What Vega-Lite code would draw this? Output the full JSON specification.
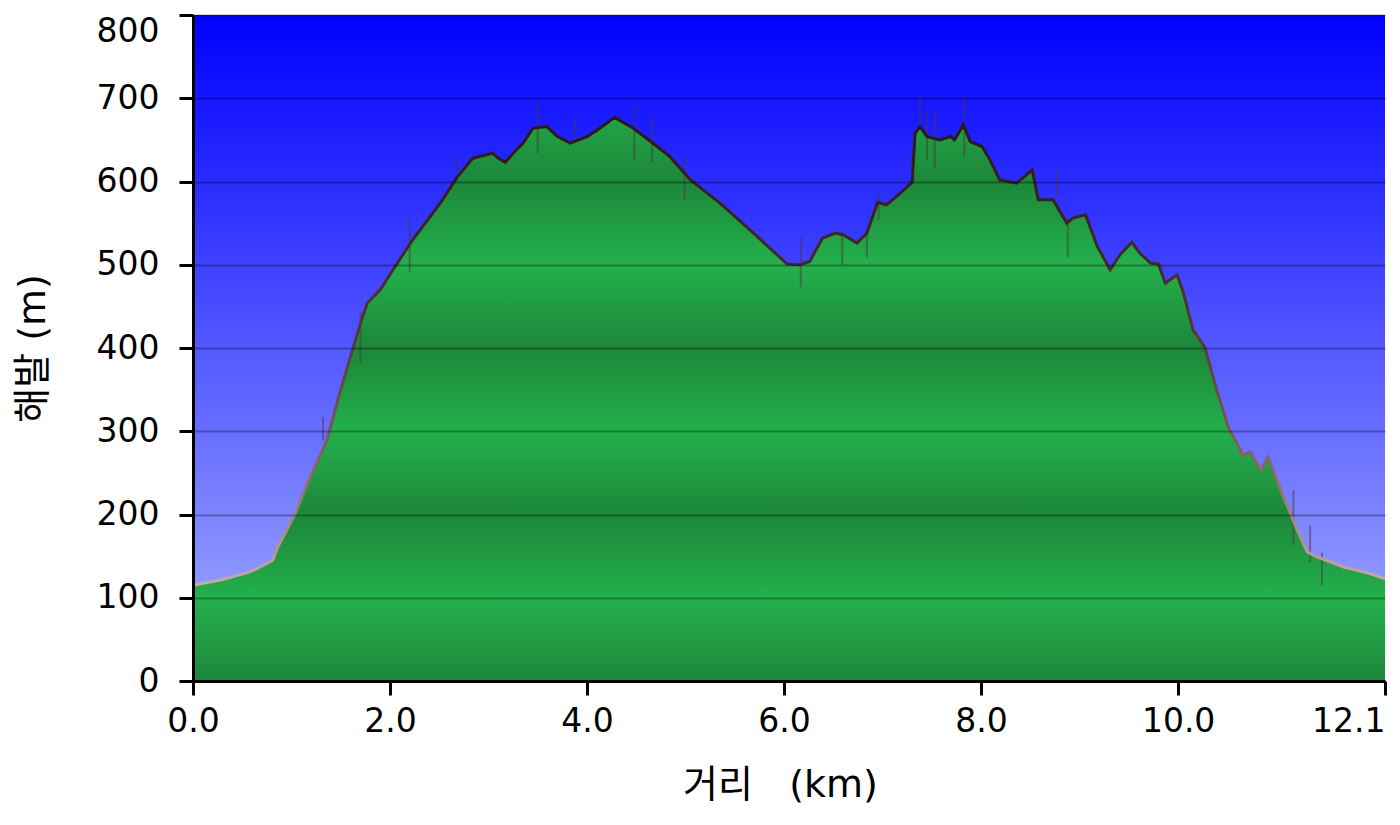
{
  "$schema": "https://vega.github.io/schema/vega-lite/v6.json",
  "width": 1192,
  "height": 666,
  "autosize": {"type": "none"},
  "padding": {"left": 193, "top": 15, "right": 15, "bottom": 144},
  "background": "#ffffff",
  "view": {
    "stroke": null,
    "fill": {"gradient": "linear", "x1": 0, "y1": 0, "x2": 0, "y2": 1,
      "stops": [{"offset": 0, "color": "#0000ff"}, {"offset": 1, "color": "#a6b0ff"}]}
  },
  "datasets": {
    "profile": [
      {"km": 0.00, "elev": 115}, {"km": 0.30, "elev": 122}, {"km": 0.58, "elev": 131}, {"km": 0.81, "elev": 145},
      {"km": 0.86, "elev": 161}, {"km": 1.02, "elev": 197}, {"km": 1.19, "elev": 245}, {"km": 1.36, "elev": 289},
      {"km": 1.49, "elev": 346}, {"km": 1.62, "elev": 398}, {"km": 1.72, "elev": 437}, {"km": 1.77, "elev": 454},
      {"km": 1.90, "elev": 470}, {"km": 2.03, "elev": 494}, {"km": 2.13, "elev": 512}, {"km": 2.23, "elev": 530},
      {"km": 2.51, "elev": 574}, {"km": 2.68, "elev": 605}, {"km": 2.84, "elev": 628}, {"km": 2.91, "elev": 630},
      {"km": 3.04, "elev": 634}, {"km": 3.10, "elev": 628}, {"km": 3.17, "elev": 623}, {"km": 3.25, "elev": 634},
      {"km": 3.35, "elev": 646}, {"km": 3.45, "elev": 664}, {"km": 3.59, "elev": 666}, {"km": 3.70, "elev": 654},
      {"km": 3.83, "elev": 646}, {"km": 4.00, "elev": 654}, {"km": 4.13, "elev": 664}, {"km": 4.28, "elev": 677},
      {"km": 4.47, "elev": 664}, {"km": 4.67, "elev": 646}, {"km": 4.84, "elev": 630}, {"km": 5.05, "elev": 602},
      {"km": 5.35, "elev": 574}, {"km": 5.69, "elev": 538}, {"km": 6.03, "elev": 501}, {"km": 6.16, "elev": 500},
      {"km": 6.26, "elev": 504}, {"km": 6.39, "elev": 532}, {"km": 6.52, "elev": 538}, {"km": 6.60, "elev": 536},
      {"km": 6.74, "elev": 526}, {"km": 6.84, "elev": 538}, {"km": 6.95, "elev": 575}, {"km": 7.04, "elev": 572},
      {"km": 7.18, "elev": 586}, {"km": 7.30, "elev": 599}, {"km": 7.33, "elev": 658}, {"km": 7.38, "elev": 666},
      {"km": 7.45, "elev": 654}, {"km": 7.58, "elev": 650}, {"km": 7.69, "elev": 654}, {"km": 7.73, "elev": 650},
      {"km": 7.82, "elev": 668}, {"km": 7.89, "elev": 648}, {"km": 8.01, "elev": 642}, {"km": 8.09, "elev": 626},
      {"km": 8.19, "elev": 602}, {"km": 8.36, "elev": 598}, {"km": 8.52, "elev": 614}, {"km": 8.58, "elev": 578},
      {"km": 8.73, "elev": 578}, {"km": 8.87, "elev": 550}, {"km": 8.93, "elev": 556}, {"km": 9.06, "elev": 560},
      {"km": 9.18, "elev": 522}, {"km": 9.31, "elev": 494}, {"km": 9.41, "elev": 512}, {"km": 9.53, "elev": 527},
      {"km": 9.61, "elev": 514}, {"km": 9.72, "elev": 502}, {"km": 9.80, "elev": 501}, {"km": 9.87, "elev": 478},
      {"km": 9.99, "elev": 488}, {"km": 10.05, "elev": 468}, {"km": 10.15, "elev": 422}, {"km": 10.27, "elev": 401},
      {"km": 10.39, "elev": 350}, {"km": 10.51, "elev": 305}, {"km": 10.66, "elev": 271}, {"km": 10.73, "elev": 275},
      {"km": 10.84, "elev": 253}, {"km": 10.91, "elev": 269}, {"km": 11.07, "elev": 221}, {"km": 11.21, "elev": 181},
      {"km": 11.31, "elev": 155}, {"km": 11.41, "elev": 149}, {"km": 11.68, "elev": 137}, {"km": 11.92, "elev": 130},
      {"km": 12.10, "elev": 123}
    ],
    "spikes": [
      {"km": 0.00, "lo": 118, "hi": 250}, {"km": 1.32, "lo": 289, "hi": 317}, {"km": 1.70, "lo": 382, "hi": 443},
      {"km": 2.20, "lo": 491, "hi": 557}, {"km": 2.68, "lo": 610, "hi": 629}, {"km": 3.50, "lo": 634, "hi": 696},
      {"km": 3.88, "lo": 650, "hi": 677}, {"km": 4.48, "lo": 626, "hi": 692}, {"km": 4.66, "lo": 623, "hi": 677},
      {"km": 4.99, "lo": 578, "hi": 630}, {"km": 6.17, "lo": 473, "hi": 533}, {"km": 6.59, "lo": 500, "hi": 538},
      {"km": 6.84, "lo": 509, "hi": 542}, {"km": 6.96, "lo": 554, "hi": 586}, {"km": 7.30, "lo": 602, "hi": 634},
      {"km": 7.38, "lo": 662, "hi": 702}, {"km": 7.45, "lo": 626, "hi": 686}, {"km": 7.53, "lo": 616, "hi": 684},
      {"km": 7.83, "lo": 630, "hi": 702}, {"km": 8.77, "lo": 582, "hi": 616}, {"km": 8.88, "lo": 509, "hi": 554},
      {"km": 11.17, "lo": 163, "hi": 229}, {"km": 11.34, "lo": 142, "hi": 187}, {"km": 11.46, "lo": 115, "hi": 154}
    ]
  },
  "layer": [
    {
      "data": {"name": "profile"},
      "mark": {
        "type": "area",
        "fill": {"gradient": "linear", "x1": 0, "y1": 1, "x2": 0, "y2": 0,
          "stops": [
            {"offset": 0, "color": "#1d873a"},
            {"offset": 0.1477, "color": "#23b04c"},
            {"offset": 0.2954, "color": "#1d873a"},
            {"offset": 0.4431, "color": "#23b04c"},
            {"offset": 0.5908, "color": "#1d873a"},
            {"offset": 0.7386, "color": "#23b04c"},
            {"offset": 0.8863, "color": "#1d873a"},
            {"offset": 1, "color": "#21a447"}
          ]}
      },
      "encoding": {
        "x": {"field": "km", "type": "quantitative", "title": "거리\u00a0\u00a0\u00a0(km)",
          "scale": {"domain": [0, 12.1], "nice": false, "zero": false},
          "axis": {"values": [0, 2, 4, 6, 8, 10, 12.1], "format": ".1f", "grid": false, "zindex": 2,
            "labelDx": -6, "titleX": 587,
            "labelAlign": {"condition": {"test": "datum.value > 12", "value": "right"}, "value": "center"}}},
        "y": {"field": "elev", "type": "quantitative", "title": "해발 (m)",
          "scale": {"domain": [0, 800], "nice": false},
          "axis": {"values": [0, 100, 200, 300, 400, 500, 600, 700, 800], "grid": true, "zindex": 2,
            "labelBaseline": {"condition": {"test": "datum.value >= 800", "value": "top"}, "value": "middle"}}}
      }
    },
    {
      "data": {"name": "spikes"},
      "mark": {"type": "rule", "color": "#4a3a3a", "opacity": 0.5, "strokeWidth": 2},
      "encoding": {
        "x": {"field": "km", "type": "quantitative", "title": "거리\u00a0\u00a0\u00a0(km)"},
        "y": {"field": "lo", "type": "quantitative", "title": "해발 (m)"},
        "y2": {"field": "hi"}
      }
    },
    {
      "data": {"name": "profile"},
      "mark": {
        "type": "line", "strokeWidth": 3,
        "stroke": {"gradient": "linear", "x1": 0, "y1": 1, "x2": 0, "y2": 0,
          "stops": [
            {"offset": 0, "color": "#c4acac"},
            {"offset": 0.24, "color": "#8a6a6a"},
            {"offset": 0.5, "color": "#5a3c3c"},
            {"offset": 0.77, "color": "#3a2424"},
            {"offset": 1, "color": "#2a1818"}
          ]}
      },
      "encoding": {
        "x": {"field": "km", "type": "quantitative", "title": "거리\u00a0\u00a0\u00a0(km)"},
        "y": {"field": "elev", "type": "quantitative", "title": "해발 (m)"}
      }
    }
  ],
  "config": {
    "font": "DejaVu Sans",
    "axis": {
      "domainColor": "#000000", "domainWidth": 3,
      "tickColor": "#000000", "tickWidth": 3, "tickSize": 14,
      "labelFont": "DejaVu Sans", "labelFontSize": 33, "labelColor": "#000000",
      "titleFont": "DejaVu Sans, Noto Sans CJK KR", "titleFontSize": 38, "titleFontWeight": "normal", "titleColor": "#000000"
    },
    "axisX": {"labelPadding": 10, "titlePadding": 28},
    "axisY": {"gridColor": "#000000", "gridOpacity": 0.3, "gridWidth": 2, "labelPadding": 20, "titlePadding": 44}
  }
}
